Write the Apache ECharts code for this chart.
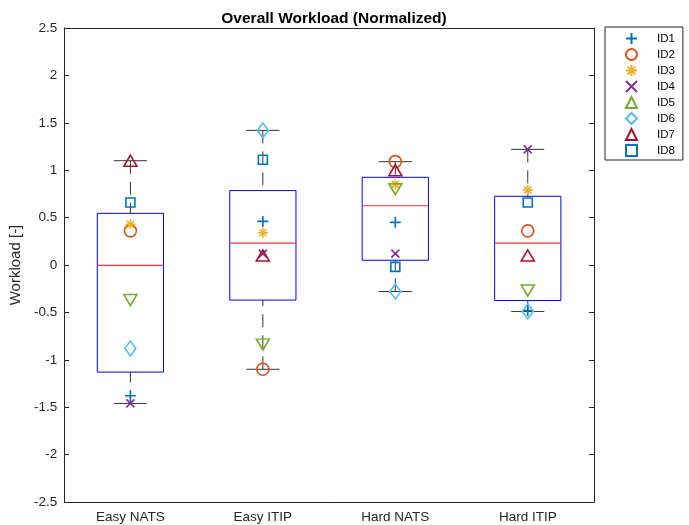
<!DOCTYPE html>
<html><head><meta charset="utf-8">
<script src="https://cdn.jsdelivr.net/npm/echarts@6/dist/echarts.min.js"></script>
<style>html,body{margin:0;padding:0;background:#fff}#c{width:689px;height:525px}</style>
</head><body><div id="c"></div>
<script>
const categories = ['Easy NATS', 'Easy ITIP', 'Hard NATS', 'Hard ITIP'];
const seriesNames = ['ID1', 'ID2', 'ID3', 'ID4', 'ID5', 'ID6', 'ID7', 'ID8'];
// values per participant, one per category
const ID1 = [-1.38, 0.46, 0.45, -0.48];
const ID2 = [0.36, -1.10, 1.09, 0.36];
const ID3 = [0.43, 0.34, 0.85, 0.79];
const ID4 = [-1.46, 0.12, 0.12, 1.22];
const ID5 = [-0.37, -0.84, 0.80, -0.27];
const ID6 = [-0.88, 1.42, -0.28, -0.49];
const ID7 = [1.10, 0.10, 1.00, 0.10];
const ID8 = [0.66, 1.11, -0.02, 0.66];
const yTicks = [-2.5, 2.5, 0.5];

const allIds = [ID1, ID2, ID3, ID4, ID5, ID6, ID7, ID8];
const colors = ['#0072BD', '#D95319', '#EDB120', '#7E2F8E', '#77AC30', '#4DBEEE', '#A2142F', '#0072BD'];

function prctile(sorted, p) {
  const n = sorted.length;
  const pos = p * n + 0.5; // MATLAB: (i-0.5)/n
  if (pos <= 1) return sorted[0];
  if (pos >= n) return sorted[n - 1];
  const lo = Math.floor(pos), f = pos - lo;
  return sorted[lo - 1] + f * (sorted[lo] - sorted[lo - 1]);
}
const boxData = categories.map((c, i) => {
  const v = allIds.map(a => a[i]).sort((a, b) => a - b);
  const q1 = prctile(v, 0.25), med = prctile(v, 0.5), q3 = prctile(v, 0.75);
  const iqr = q3 - q1;
  const lo = v.filter(x => x >= q1 - 1.5 * iqr)[0];
  const hiArr = v.filter(x => x <= q3 + 1.5 * iqr);
  const hi = hiArr[hiArr.length - 1];
  return [i, lo, q1, med, q3, hi];
});

const P = 'path://';
const symbols = [
  P + 'M0,5L10,5M5,0L5,10',
  'circle',
  P + 'M0,5L10,5M5,0L5,10M1.5,1.5L8.5,8.5M1.5,8.5L8.5,1.5',
  P + 'M0,0L10,10M0,10L10,0',
  'triangle',
  'diamond',
  'triangle',
  'rect'
];
const sizes = [11, 12, 10, 8, [13, 11], [11, 15], [13, 11], 9];
const rotates = [0, 0, 0, 0, 180, 0, 0, 0];

const font = 'Liberation Sans, Arial, Helvetica, sans-serif';
const axisColor = '#262626';

const scatterSeries = seriesNames.map((name, k) => ({
  type: 'scatter',
  name: name,
  data: allIds[k].map((v, i) => [i, v]),
  symbol: symbols[k],
  symbolSize: sizes[k],
  symbolRotate: rotates[k],
  z: 5,
  itemStyle: { color: 'rgba(0,0,0,0)', borderColor: colors[k], borderWidth: 1.6, opacity: 1 },
  emphasis: { disabled: true }
}));

const boxSeries = {
  type: 'custom',
  name: 'box',
  data: boxData,
  z: 3,
  silent: true,
  encode: { x: 0, y: [1, 2, 3, 4, 5] },
  renderItem: function (params, api) {
    const idx = api.value(0);
    const x = api.coord([idx, 0])[0];
    const band = api.size([1, 0])[0];
    const bw = band * 0.5, cw = band * 0.25;
    const yLo = api.coord([idx, api.value(1)])[1];
    const yQ1 = api.coord([idx, api.value(2)])[1];
    const yMed = api.coord([idx, api.value(3)])[1];
    const yQ3 = api.coord([idx, api.value(4)])[1];
    const yHi = api.coord([idx, api.value(5)])[1];
    const xl = x - bw / 2, xr = x + bw / 2;
    return {
      type: 'group',
      children: [
        { type: 'line', shape: { x1: x, y1: yHi, x2: x, y2: yQ3 }, style: { stroke: '#333', lineWidth: 1, lineDash: [13, 8] } },
        { type: 'line', shape: { x1: x, y1: yLo, x2: x, y2: yQ1 }, style: { stroke: '#333', lineWidth: 1, lineDash: [13, 8] } },
        { type: 'line', shape: { x1: x - cw / 2, y1: yHi, x2: x + cw / 2, y2: yHi }, style: { stroke: '#333', lineWidth: 1 } },
        { type: 'line', shape: { x1: x - cw / 2, y1: yLo, x2: x + cw / 2, y2: yLo }, style: { stroke: '#333', lineWidth: 1 } },
        { type: 'rect', shape: { x: xl, y: yQ3, width: bw, height: yQ1 - yQ3 }, style: { fill: 'none', stroke: '#0000FF', lineWidth: 1 } },
        { type: 'rect', z2: 3, shape: { x: xl + 0.5, y: yMed - 0.6, width: bw - 1, height: 1.2 }, style: { fill: '#FF3030', stroke: null } }
      ]
    };
  }
};

const chart = echarts.init(document.getElementById('c'), null, { renderer: 'canvas' });
chart.setOption({
  animation: false,
  backgroundColor: '#fff',
  title: {
    text: 'Overall Workload (Normalized)',
    left: 329, top: 6, textAlign: 'center',
    textStyle: { fontFamily: font, fontSize: 15.5, fontWeight: 'bold', color: '#000' }
  },
  grid: { left: 63, right: 95, top: 28, bottom: 23 },
  legend: {
    data: seriesNames,
    orient: 'vertical',
    left: 605, top: 27,
    padding: [5, 8, 3, 20],
    itemWidth: 11, itemHeight: 11, itemGap: 3,
    borderColor: '#262626', borderWidth: 1,
    textStyle: { fontFamily: font, fontSize: 11.5, color: '#000', lineHeight: 11, padding: [0, 0, 0, 15] },
    selectedMode: false
  },
  xAxis: [{
    type: 'category', data: categories, boundaryGap: true,
    axisLine: { onZero: false, lineStyle: { color: axisColor } },
    axisTick: { inside: true, alignWithLabel: true, length: 5, lineStyle: { color: axisColor } },
    axisLabel: { fontFamily: font, fontSize: 13.5, color: axisColor, margin: 8 },
    splitLine: { show: false }
  }, {
    type: 'category', data: categories, boundaryGap: true, position: 'top',
    axisLine: { onZero: false, lineStyle: { color: axisColor } },
    axisTick: { inside: true, alignWithLabel: true, length: 5, lineStyle: { color: axisColor } },
    axisLabel: { show: false }
  }],
  yAxis: [{
    type: 'value', min: yTicks[0], max: yTicks[1], interval: yTicks[2],
    name: 'Workload [-]', nameLocation: 'middle', nameGap: 31, nameRotate: 90,
    nameTextStyle: { fontFamily: font, fontSize: 15, color: axisColor },
    axisLine: { show: true, onZero: false, lineStyle: { color: axisColor } },
    axisTick: { show: true, inside: true, length: 5, lineStyle: { color: axisColor } },
    axisLabel: { fontFamily: font, fontSize: 13.5, color: axisColor, margin: 7 },
    splitLine: { show: false }
  }, {
    type: 'value', min: yTicks[0], max: yTicks[1], interval: yTicks[2], position: 'right',
    axisLine: { show: true, onZero: false, lineStyle: { color: axisColor } },
    axisTick: { show: true, inside: true, length: 5, lineStyle: { color: axisColor } },
    axisLabel: { show: false },
    splitLine: { show: false }
  }],
  series: [boxSeries].concat(scatterSeries)
});
</script></body></html>
